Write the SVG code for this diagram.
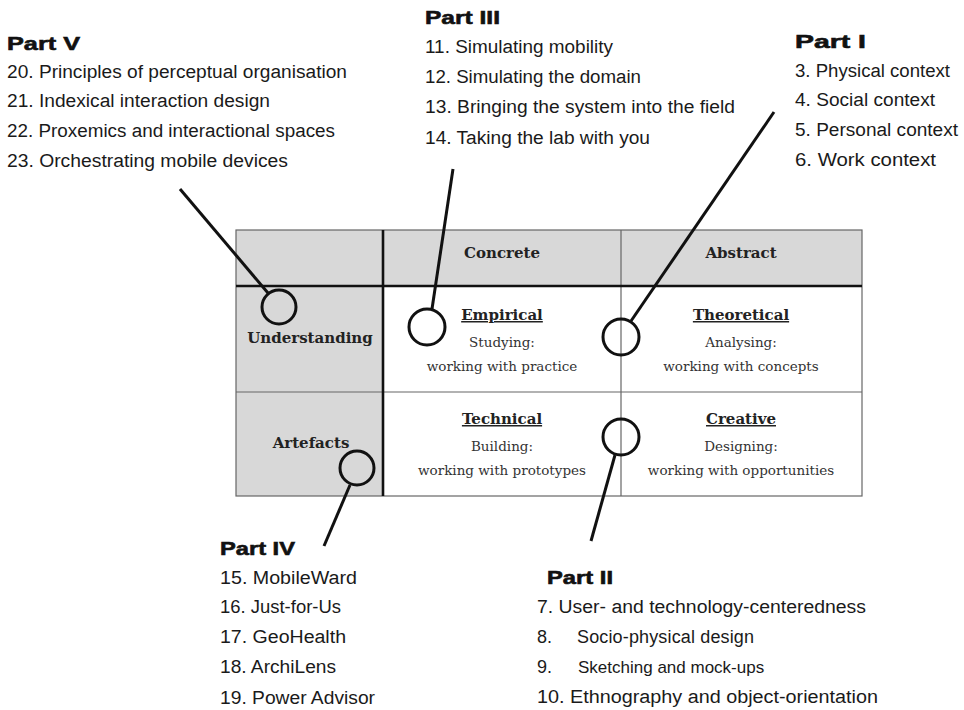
<svg xmlns="http://www.w3.org/2000/svg" width="964" height="710" viewBox="0 0 964 710">
  <style>
    .lbl { font-family: "Liberation Sans", "DejaVu Sans", sans-serif; font-size: 18px; fill: #1a1a1a; }
    .ttl { font-family: "Liberation Sans", "DejaVu Sans", sans-serif; font-size: 19px; font-weight: 900; fill: #111; stroke: #111; stroke-width: 0.6; }
    .hd { font-family: "DejaVu Serif", "Liberation Serif", serif; font-size: 15px; font-weight: bold; fill: #222; text-anchor: middle; }
    .cell { font-family: "DejaVu Serif", "Liberation Serif", serif; font-size: 13.5px; fill: #333; text-anchor: middle; }
    .u { text-decoration: underline; }
    .thin { stroke: #666; stroke-width: 1.2; fill: none; }
    .thick { stroke: #111; stroke-width: 2.6; fill: none; }
    .conn { stroke: #111; stroke-width: 3; fill: none; }
  </style>
  <rect width="964" height="710" fill="#ffffff"/>

  <!-- Matrix -->
  <g id="matrix">
    <rect x="236" y="230" width="626" height="266" fill="#ffffff"/>
    <rect x="236" y="230" width="626" height="56" fill="#d8d8d8"/>
    <rect x="236" y="286" width="147" height="210" fill="#d8d8d8"/>
    <rect x="236" y="230" width="626" height="266" class="thin"/>
    <line x1="236" y1="392" x2="862" y2="392" class="thin"/>
    <line x1="621" y1="230" x2="621" y2="496" class="thin"/>
    <line x1="236" y1="286" x2="862" y2="286" class="thick"/>
    <line x1="383" y1="230" x2="383" y2="496" class="thick"/>
    <text class="hd" x="502" y="258">Concrete</text>
    <text class="hd" x="741" y="258">Abstract</text>
    <text class="hd" x="310" y="343">Understanding</text>
    <text class="hd" x="311" y="448">Artefacts</text>
  </g>

  <g id="empirical">
    <text class="hd u" x="502" y="320">Empirical</text>
    <text class="cell" x="502" y="347">Studying:</text>
    <text class="cell" x="502" y="371">working with practice</text>
  </g>
  <g id="theoretical">
    <text class="hd u" x="741" y="320">Theoretical</text>
    <text class="cell" x="741" y="347">Analysing:</text>
    <text class="cell" x="741" y="371">working with concepts</text>
  </g>
  <g id="technical">
    <text class="hd u" x="502" y="424">Technical</text>
    <text class="cell" x="502" y="451">Building:</text>
    <text class="cell" x="502" y="475">working with prototypes</text>
  </g>
  <g id="creative">
    <text class="hd u" x="741" y="424">Creative</text>
    <text class="cell" x="741" y="451">Designing:</text>
    <text class="cell" x="741" y="475">working with opportunities</text>
  </g>

  <!-- Part labels -->
  <g id="part-v">
    <text class="ttl" x="7" y="50" textLength="73" lengthAdjust="spacingAndGlyphs">Part V</text>
    <text class="lbl" x="7" y="78" textLength="340" lengthAdjust="spacingAndGlyphs">20. Principles of perceptual organisation</text>
    <text class="lbl" x="7" y="107" textLength="263" lengthAdjust="spacingAndGlyphs">21. Indexical interaction design</text>
    <text class="lbl" x="7" y="137" textLength="328" lengthAdjust="spacingAndGlyphs">22. Proxemics and interactional spaces</text>
    <text class="lbl" x="7" y="167" textLength="281" lengthAdjust="spacingAndGlyphs">23. Orchestrating mobile devices</text>
  </g>
  <g id="part-iii">
    <text class="ttl" x="425" y="24" textLength="75" lengthAdjust="spacingAndGlyphs">Part III</text>
    <text class="lbl" x="425" y="53" textLength="188" lengthAdjust="spacingAndGlyphs">11. Simulating mobility</text>
    <text class="lbl" x="425" y="83" textLength="216" lengthAdjust="spacingAndGlyphs">12. Simulating the domain</text>
    <text class="lbl" x="425" y="113" textLength="310" lengthAdjust="spacingAndGlyphs">13. Bringing the system into the field</text>
    <text class="lbl" x="425" y="144" textLength="225" lengthAdjust="spacingAndGlyphs">14. Taking the lab with you</text>
  </g>
  <g id="part-i">
    <text class="ttl" x="795" y="48" textLength="71" lengthAdjust="spacingAndGlyphs">Part I</text>
    <text class="lbl" x="795" y="77" textLength="155" lengthAdjust="spacingAndGlyphs">3. Physical context</text>
    <text class="lbl" x="795" y="106" textLength="140" lengthAdjust="spacingAndGlyphs">4. Social context</text>
    <text class="lbl" x="795" y="136" textLength="163" lengthAdjust="spacingAndGlyphs">5. Personal context</text>
    <text class="lbl" x="795" y="166" textLength="141" lengthAdjust="spacingAndGlyphs">6. Work context</text>
  </g>
  <g id="part-iv">
    <text class="ttl" x="220" y="555" textLength="75" lengthAdjust="spacingAndGlyphs">Part IV</text>
    <text class="lbl" x="220" y="584" textLength="137" lengthAdjust="spacingAndGlyphs">15. MobileWard</text>
    <text class="lbl" x="220" y="613" textLength="121" lengthAdjust="spacingAndGlyphs">16. Just-for-Us</text>
    <text class="lbl" x="220" y="643" textLength="126" lengthAdjust="spacingAndGlyphs">17. GeoHealth</text>
    <text class="lbl" x="220" y="673" textLength="116" lengthAdjust="spacingAndGlyphs">18. ArchiLens</text>
    <text class="lbl" x="220" y="704" textLength="155" lengthAdjust="spacingAndGlyphs">19. Power Advisor</text>
  </g>
  <g id="part-ii">
    <text class="ttl" x="547" y="584" textLength="66" lengthAdjust="spacingAndGlyphs">Part II</text>
    <text class="lbl" x="537" y="613" textLength="329" lengthAdjust="spacingAndGlyphs">7. User- and technology-centeredness</text>
    <text class="lbl" x="537" y="643">8.</text>
    <text class="lbl" x="577" y="643" textLength="177" lengthAdjust="spacing">Socio-physical design</text>
    <text class="lbl" x="537" y="673">9.</text>
    <text class="lbl" x="578" y="673" style="font-size:17px">Sketching and mock-ups</text>
    <text class="lbl" x="537" y="703" textLength="341" lengthAdjust="spacingAndGlyphs">10. Ethnography and object-orientation</text>
  </g>

  <!-- Connectors: leader lines ending in open circles -->
  <g id="connectors">
    <line class="conn" x1="180" y1="189" x2="268" y2="293"/>
    <circle class="conn" cx="279" cy="307" r="17"/>
    <line class="conn" x1="453" y1="169" x2="432" y2="309"/>
    <circle class="conn" cx="427" cy="327" r="18"/>
    <line class="conn" x1="774" y1="112" x2="631" y2="321"/>
    <circle class="conn" cx="621" cy="337" r="18"/>
    <circle class="conn" cx="621" cy="437" r="18"/>
    <line class="conn" x1="615" y1="455" x2="591" y2="541"/>
    <circle class="conn" cx="357" cy="468" r="17"/>
    <line class="conn" x1="350" y1="485" x2="324" y2="546"/>
  </g>
</svg>
